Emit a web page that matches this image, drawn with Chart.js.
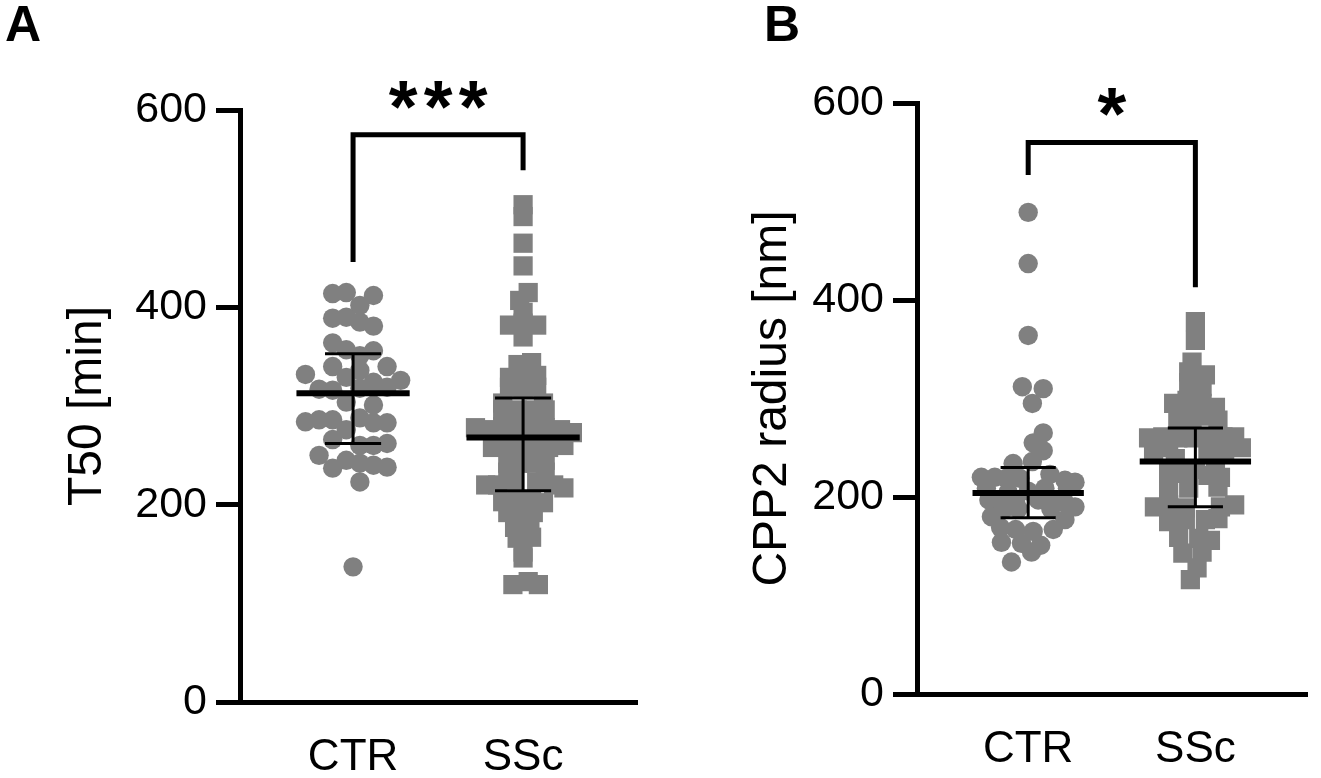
<!DOCTYPE html>
<html lang="en">
<head>
<meta charset="UTF-8">
<title>T50 / CPP2 radius</title>
<style>
  body { margin: 0; background: #fff; }
  .panel { position: absolute; top: 0; height: 778px; }
  .tag { position: absolute; font: bold 50px "Liberation Sans", Arial, sans-serif; line-height: 50px; color: #000; }
</style>
</head>
<body>

<div class="tag" style="left: 5px; top: -1px;">A</div>
<div class="tag" style="left: 764px; top: -1px;">B</div>

<div class="panel" style="left: 0; width: 660px;"><canvas id="chartA"></canvas></div>
<div class="panel" style="left: 660px; width: 661px;"><canvas id="chartB"></canvas></div>

<script src="https://cdn.jsdelivr.net/npm/chart.js"></script>
<script>
const groups = ['CTR', 'SSc'];
const yTicks = [0, 200, 400, 600];

// panel A - T50 [min]
const ctrT50 = [414, 415, 412, 402, 389, 390, 385, 381, 364, 357, 351, 356, 332, 340, 340,
  329, 336, 324, 326, 319, 317, 316, 304, 301, 318, 284, 286, 286, 276, 288, 283, 283,
  266, 260, 260, 262, 250, 237, 245, 242, 240, 238, 223, 137];
const ctrT50X = [-0.12, -0.04, 0.12, 0.04, -0.12, -0.04, 0.04, 0.12, -0.12, -0.04, 0.04, 0.12, -0.28, -0.12, 0.2,
  -0.04, 0.04, 0.12, 0.28, 0.2, -0.2, -0.12, -0.04, 0.12, 0.04, -0.28, -0.2, -0.12, -0.04, 0.04, 0.12, 0.2,
  -0.12, 0.04, 0.12, 0.2, -0.2, -0.12, -0.04, 0.04, 0.12, 0.2, 0.04, 0];
const sscT50 = [504, 492, 465, 442, 415, 407, 395, 382, 384, 382, 370, 342, 344, 329, 329, 331, 319, 318, 319, 303, 303,
  296, 296, 296, 296, 278, 276, 279, 279, 279, 278, 276, 273,
  258, 258, 258, 258, 258, 260,
  242, 242, 242, 245, 233, 233,
  220, 220, 225, 223, 220, 217,
  203, 205, 205, 202,
  192, 192, 192,
  177, 176, 166, 167, 152, 146, 119, 122, 119];
const sscT50X = [0, 0, 0, 0, 0.03, -0.02, 0, -0.08, 0, 0.08, 0, -0.03, 0.05, -0.08, 0, 0.08, -0.08, 0, 0.08, -0.12, 0.12,
  -0.12, -0.035, 0.05, 0.13, -0.28, -0.2, -0.12, -0.035, 0.05, 0.13, 0.22, 0.29,
  -0.18, -0.09, -0.02, 0.07, 0.15, 0.24,
  -0.09, -0.02, 0.07, 0.13, -0.09, 0.13,
  -0.22, -0.15, -0.06, 0.08, 0.18, 0.24,
  -0.12, -0.035, 0.05, 0.12,
  -0.09, -0.02, 0.06,
  -0.05, 0.04, -0.035, 0.05, 0, 0, -0.06, 0.03, 0.09];
const meanT50 = [313, 268];
const loT50 = [262, 214];
const hiT50 = [353, 308];

// panel B - CPP2 radius [nm]
const ctrCpp = [489, 437, 364, 312, 310, 295, 265, 255, 247, 234, 236,
  220, 220, 219, 219, 223, 217, 215,
  209, 209, 209,
  197, 195, 195, 197, 195, 194, 190,
  189, 188, 188,
  180, 177,
  169, 167, 165, 167,
  154, 153, 151,
  144, 134, 206, 205];
const ctrCppX = [0, 0, 0, -0.035, 0.09, 0.025, 0.09, 0.03, 0.09, -0.09, 0.025,
  -0.28, -0.2, -0.13, -0.05, 0.13, 0.22, 0.28,
  -0.25, 0.1, 0.235,
  -0.235, -0.16, -0.075, 0.06, 0.135, 0.22, 0.28,
  -0.135, -0.06, 0.135,
  -0.22, 0.22,
  -0.165, -0.075, 0.03, 0.15,
  -0.16, -0.04, 0.075,
  0.02, -0.1, 0, -0.12];
const sscCpp = [378, 359, 337, 327, 324, 316, 312, 295, 298, 295, 291, 280, 280, 282, 278,
  260, 261, 260, 260, 261, 261, 261, 248, 250, 248, 248, 250, 239, 233, 228,
  224, 224, 222, 220, 207, 210, 209, 190, 192, 189, 190, 192,
  175, 177, 177, 178, 159, 158, 156, 143, 144, 128, 116];
const sscCppX = [0, 0, -0.02, -0.04, 0.06, -0.04, 0.04, -0.13, -0.05, 0.04, 0.12, -0.105, -0.02, 0.07, 0.135,
  -0.28, -0.195, -0.105, -0.01, 0.075, 0.165, 0.235, -0.25, -0.16, 0.075, 0.175, 0.275, -0.12, 0.12, 0,
  -0.16, -0.075, 0.075, 0.15, -0.16, 0.135, -0.04, -0.245, -0.16, -0.06, 0.15, 0.235,
  -0.16, -0.06, 0.06, 0.135, -0.1, 0.02, 0.09, -0.075, 0.04, 0.01, -0.03];
const meanCpp = [204, 236];
const loCpp = [179, 190];
const hiCpp = [230, 270];

// significance brackets: [left leg end, right leg end, top]
const bracketA = [446, 539, 575];
const bracketB = [527, 413, 560];

const GREY = '#808080';
const FONT = '"Liberation Sans", Arial, sans-serif';

function toPoints(values, offsets, center) {
    return values.map((v, i) => ({ x: center + offsets[i], y: v }));
}

// vertical error bar with caps, one line dataset using gaps
function errorBarData(mean, lo, hi) {
    let pts = [];
    for (let g = 0; g < mean.length; g++) {
        let c = g + 1;
        pts.push({ x: c - 0.165, y: hi[g] }, { x: c + 0.165, y: hi[g] }, { x: c, y: null });
        pts.push({ x: c, y: hi[g] }, { x: c, y: lo[g] }, { x: c, y: null });
        pts.push({ x: c - 0.165, y: lo[g] }, { x: c + 0.165, y: lo[g] }, { x: c, y: null });
    }
    return pts;
}
function meanData(mean) {
    let pts = [];
    for (let g = 0; g < mean.length; g++) {
        let c = g + 1;
        pts.push({ x: c - 0.333, y: mean[g] }, { x: c + 0.333, y: mean[g] }, { x: c, y: null });
    }
    return pts;
}

const sigStars = {
    id: 'sigStars',
    afterDatasetsDraw(chart, args, opts) {
        const ctx = chart.ctx;
        const xs = chart.scales.x, ys = chart.scales.y;
        const n = opts.text.length;
        ctx.save();
        ctx.fillStyle = '#000';
        ctx.font = 'bold 74px ' + FONT;
        ctx.textAlign = 'center';
        ctx.textBaseline = 'middle';
        for (let i = 0; i < n; i++) {
            let x = xs.getPixelForValue(1.5) + (i - (n - 1) / 2) * 35;
            ctx.fillText(opts.text[i], x, ys.getPixelForValue(opts.y) + 14);
        }
        ctx.restore();
    }
};

function makeChart(id, s) {
    const ctx = document.querySelector(id);
    return new Chart(ctx, {
        type: 'scatter',
        data: {
            datasets: [
                { data: meanData(s.mean), showLine: true, spanGaps: false, borderColor: '#000', borderWidth: 6,
                  pointRadius: 0, borderCapStyle: 'butt', order: 0 },
                { data: errorBarData(s.mean, s.lo, s.hi), showLine: true, spanGaps: false, borderColor: '#000', borderWidth: 3,
                  pointRadius: 0, borderCapStyle: 'butt', order: 0 },
                { data: [{ x: 1, y: s.bracket[0] }, { x: 1, y: s.bracket[2] }, { x: 2, y: s.bracket[2] }, { x: 2, y: s.bracket[1] }],
                  showLine: true, borderColor: '#000', borderWidth: 5, pointRadius: 0,
                  borderJoinStyle: 'miter', borderCapStyle: 'butt', clip: false, order: 0 },
                { data: toPoints(s.ctr, s.ctrX, 1), pointStyle: 'circle', pointRadius: 9.7,
                  backgroundColor: GREY, borderWidth: 0, order: 1 },
                { data: toPoints(s.ssc, s.sscX, 2), pointStyle: 'rect', pointRadius: 13.6,
                  backgroundColor: GREY, borderWidth: 0, order: 1 }
            ]
        },
        options: {
            responsive: true,
            maintainAspectRatio: false,
            animation: false,
            events: [],
            layout: { padding: { top: s.top, right: s.right, left: 0, bottom: 0 } },
            plugins: {
                legend: { display: false },
                tooltip: { enabled: false },
                sigStars: { text: s.stars, y: s.starY }
            },
            scales: {
                x: {
                    type: 'linear', min: 0.335, max: 2.67,
                    afterBuildTicks: (sc) => { sc.ticks = groups.map((g, i) => ({ value: i + 1 })); },
                    afterFit: (sc) => { sc.height = s.xHeight; },
                    grid: { display: false },
                    border: { display: true, width: 5, color: '#000' },
                    ticks: {
                        callback: (v) => groups[v - 1],
                        font: { family: FONT, size: 44 }, color: '#000', padding: 21, maxRotation: 0
                    }
                },
                y: {
                    min: 0, max: 600,
                    afterBuildTicks: (sc) => { sc.ticks = yTicks.map(v => ({ value: v })); },
                    afterFit: (sc) => { sc.width = s.yWidth; },
                    grid: { drawOnChartArea: false, color: '#000', lineWidth: 5, tickLength: 24 },
                    border: { display: true, width: 5, color: '#000' },
                    ticks: { font: { family: FONT, size: 43 }, color: '#000', padding: 9 },
                    title: {
                        display: true, text: s.yTitle, color: '#000',
                        font: { family: FONT, size: 48 }, padding: { top: s.titlePad, bottom: 0 }
                    }
                }
            }
        },
        plugins: [sigStars]
    });
}

makeChart('#chartA', {
    ctr: ctrT50, ctrX: ctrT50X, ssc: sscT50, sscX: sscT50X,
    mean: meanT50, lo: loT50, hi: hiT50, bracket: bracketA,
    stars: '***', starY: 613, yTitle: 'T50 [min]',
    top: 110, right: 23, yWidth: 240, xHeight: 76, titlePad: 59
});

makeChart('#chartB', {
    ctr: ctrCpp, ctrX: ctrCppX, ssc: sscCpp, sscX: sscCppX,
    mean: meanCpp, lo: loCpp, hi: hiCpp, bracket: bracketB,
    stars: '*', starY: 598, yTitle: 'CPP2 radius [nm]',
    top: 103, right: 6, yWidth: 257, xHeight: 84, titlePad: 84
});
</script>
</body>
</html>
